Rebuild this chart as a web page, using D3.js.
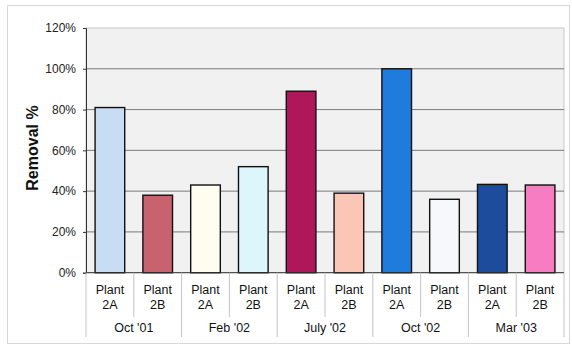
<!DOCTYPE html>
<html>
<head>
<meta charset="utf-8">
<script src="https://cdn.jsdelivr.net/npm/d3@7"></script>
<style>
  body { margin: 0; background: #fff; }
  svg { display: block; font-family: Arial, "Liberation Sans", sans-serif; }
</style>
</head>
<body>
<div id="chart"></div>
<script>
const groups = ["Oct '01", "Feb '02", "July '02", "Oct '02", "Mar '03"];
const plants = ["2A", "2B"];
const removal = [81, 38, 43, 52, 89, 39, 100, 36, 43.3, 43];
const barColors = ["#c8ddf4", "#c9626f", "#fefdf0", "#ddf6fb", "#b0175a", "#fcc6b6",
                   "#1f7bdc", "#f7f8fb", "#1e4c9c", "#f77cc2"];
const yTicks = [0, 20, 40, 60, 80, 100, 120];

const W = 572, H = 348;
const plotL = 86, plotR = 564, plotT = 28, plotB = 272.7;

const svg = d3.select("#chart").append("svg")
    .attr("width", W).attr("height", H);

// outer chart border
svg.append("rect")
    .attr("x", 7.5).attr("y", 5.5).attr("width", 562).attr("height", 338)
    .attr("fill", "#fff").attr("stroke", "#d8d8d8");

// one band per bar
const cats = [];
groups.forEach(g => plants.forEach(p => cats.push(g + "|" + p)));

const x = d3.scaleBand().domain(cats).range([plotL, plotR]).paddingInner(0).paddingOuter(0);
const y = d3.scaleLinear().domain([0, 120]).range([plotB, plotT]);

// plot area
svg.append("rect")
    .attr("x", plotL).attr("y", plotT).attr("width", plotR - plotL).attr("height", plotB - plotT)
    .attr("fill", "#f1f1f1").attr("stroke", "#c8c8c8");

// gridlines
svg.append("g")
    .selectAll("line")
    .data(yTicks.filter(d => d > 0 && d < 120))
    .join("line")
    .attr("x1", plotL).attr("x2", plotR)
    .attr("y1", d => y(d)).attr("y2", d => y(d))
    .attr("stroke", "#7a7a7a").attr("stroke-width", 1);

// bars
const bw = x.bandwidth() * 0.62;
svg.append("g")
    .selectAll("rect")
    .data(removal)
    .join("rect")
    .attr("x", (d, i) => x(cats[i]) + (x.bandwidth() - bw) / 2)
    .attr("y", d => y(d))
    .attr("width", bw)
    .attr("height", d => y(0) - y(d))
    .attr("fill", (d, i) => barColors[i])
    .attr("stroke", "#111")
    .attr("stroke-width", 1.4);

// y axis
const yAxis = svg.append("g")
    .attr("transform", `translate(${plotL},0)`)
    .call(d3.axisLeft(y).tickValues(yTicks).tickFormat(d => d + "%").tickSize(3).tickPadding(7));
yAxis.select(".domain").attr("stroke", "#333");
yAxis.selectAll(".tick line").attr("stroke", "#333");
yAxis.selectAll("text").attr("font-size", 12).attr("fill", "#222")
    .attr("font-family", "Arial, 'Liberation Sans', sans-serif");

// x baseline
svg.append("line")
    .attr("x1", plotL).attr("x2", plotR).attr("y1", plotB).attr("y2", plotB)
    .attr("stroke", "#333");

// category separators
const sep = svg.append("g").attr("stroke", "#c4c4c4");
cats.forEach((c, i) => {
  const xx = x(c);
  sep.append("line")
    .attr("x1", xx).attr("x2", xx)
    .attr("y1", plotB).attr("y2", i % 2 === 0 ? 337 : 317);
});
sep.append("line").attr("x1", plotR).attr("x2", plotR).attr("y1", plotB).attr("y2", 337);

// plant labels
const lab = svg.append("g").attr("font-size", 12.5).attr("fill", "#111").attr("text-anchor", "middle");
cats.forEach((c, i) => {
  const cx = x(c) + x.bandwidth() / 2;
  lab.append("text").attr("x", cx).attr("y", 294).text("Plant");
  lab.append("text").attr("x", cx).attr("y", 309).text(plants[i % 2]);
});

// group labels
groups.forEach(g => {
  const cx = x(g + "|2B");
  lab.append("text").attr("x", cx).attr("y", 332).text(g);
});

// y title
svg.append("text")
    .attr("transform", "translate(38,148) rotate(-90)")
    .attr("text-anchor", "middle")
    .attr("font-size", 16).attr("font-weight", "bold").attr("fill", "#111")
    .text("Removal %");
</script>
</body>
</html>
